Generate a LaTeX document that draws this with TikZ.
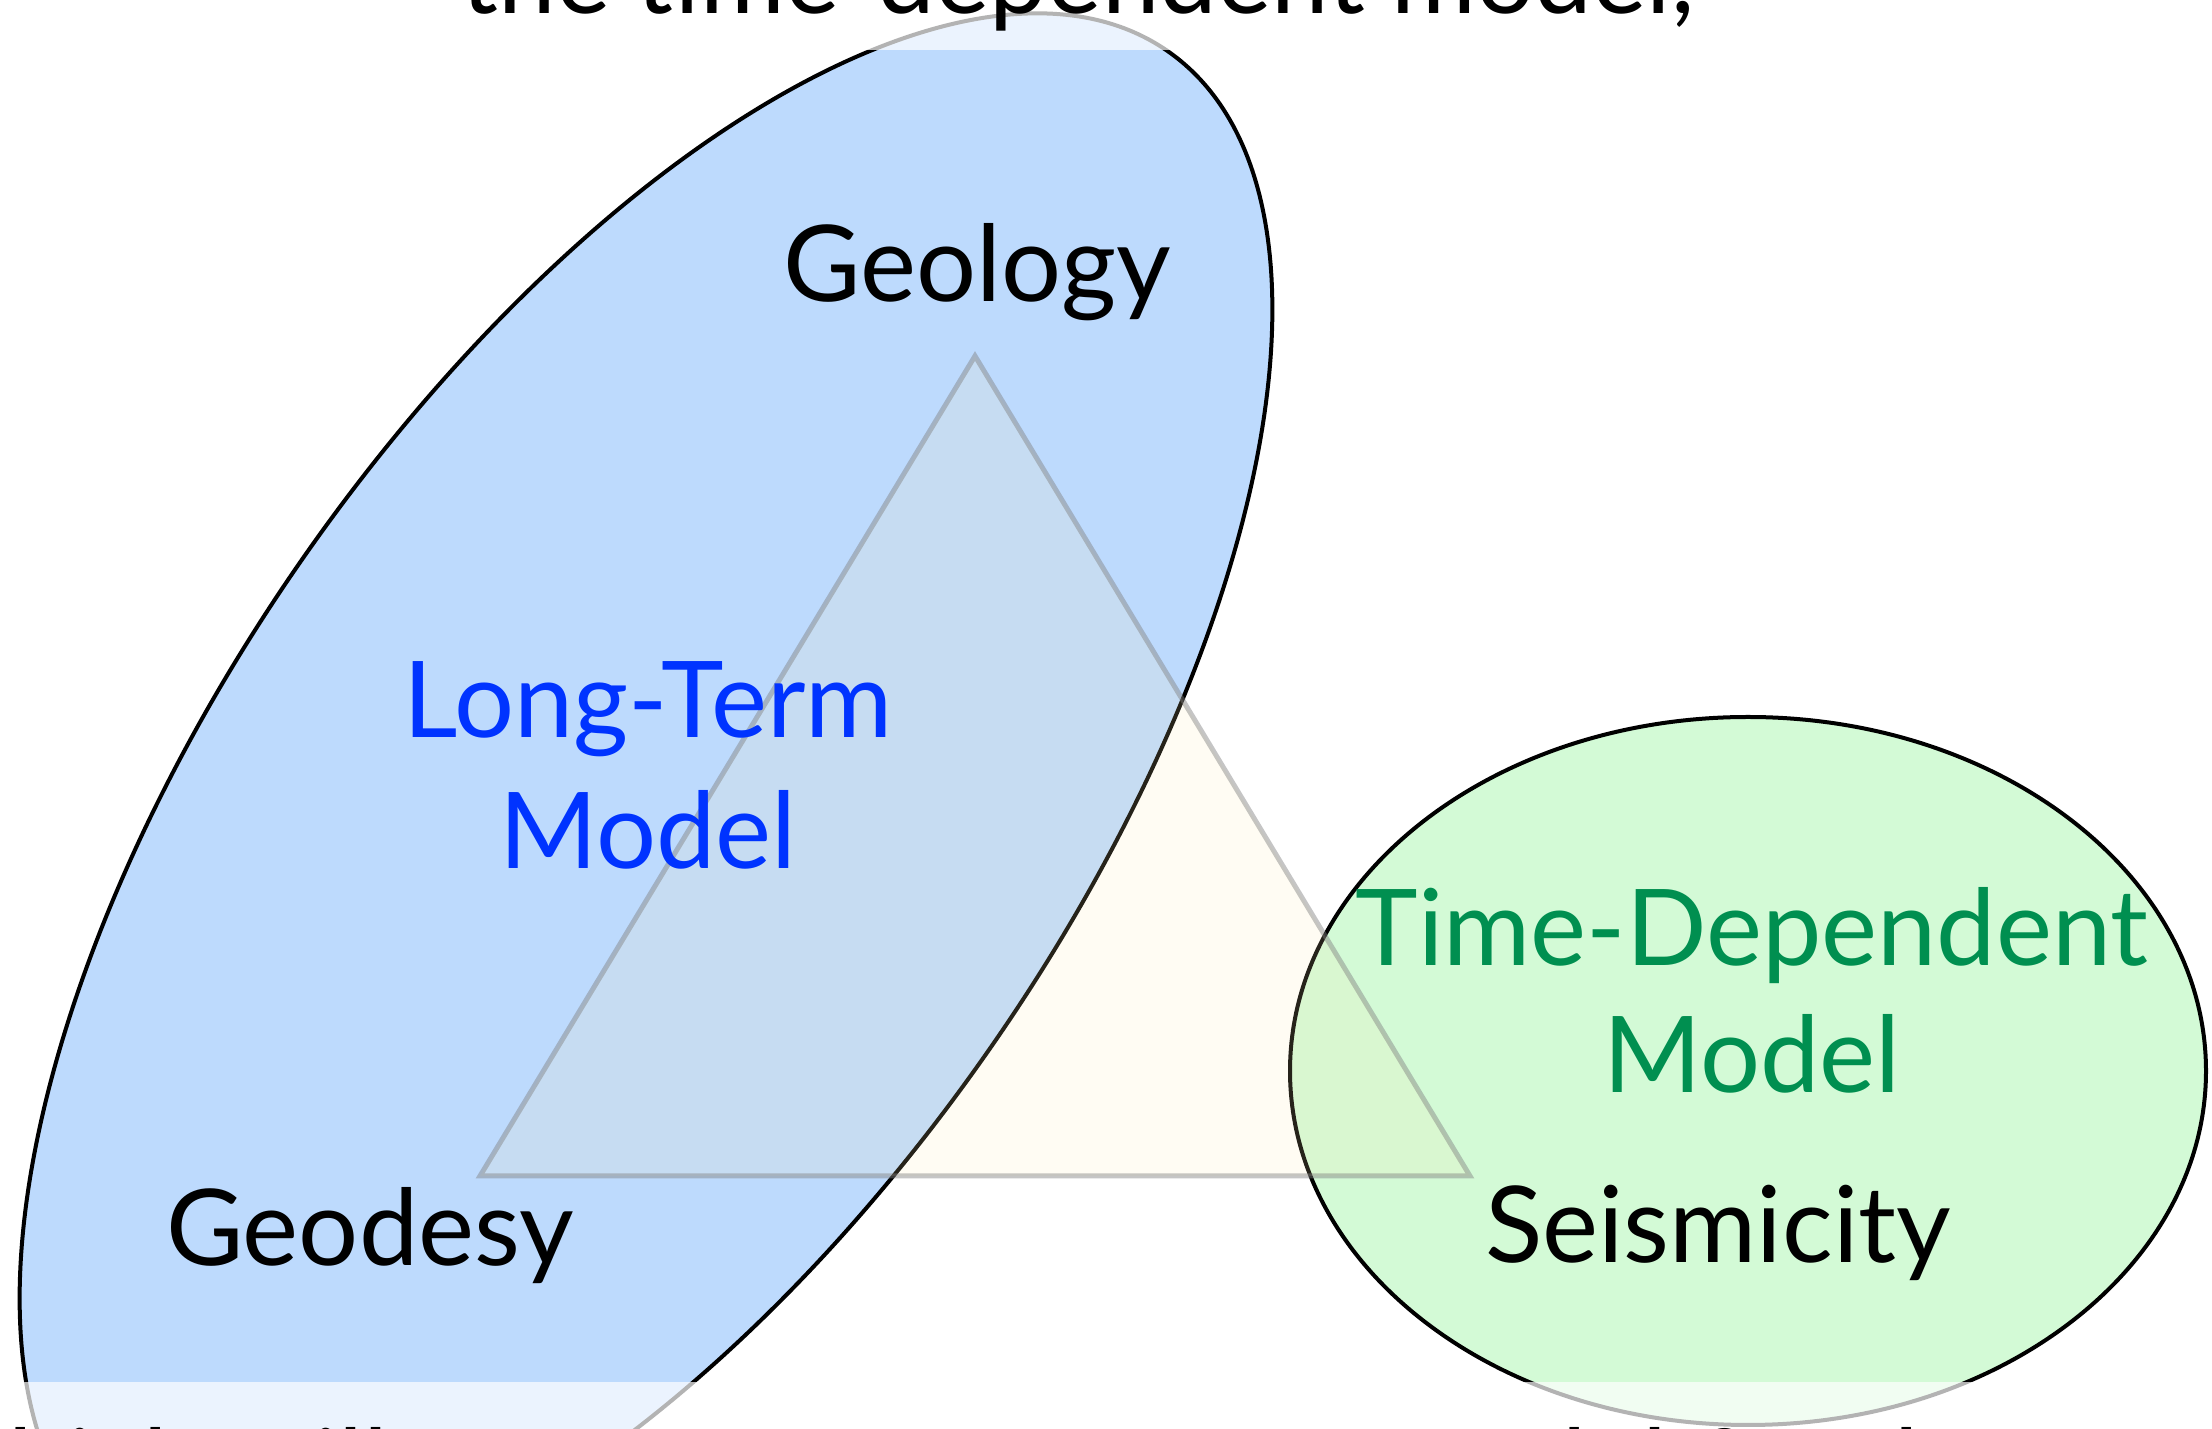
\documentclass[tikz,border=0pt]{standalone}
\usepackage{fontspec}
\setmainfont{Lato}
\begin{document}
\begin{tikzpicture}[x=1pt,y=1pt]
\definecolor{ltblue}{RGB}{189,218,253}
\definecolor{ltgreen}{RGB}{211,250,214}
\definecolor{bluetxt}{RGB}{0,51,255}
\definecolor{greentxt}{RGB}{0,143,80}
\definecolor{trifill}{RGB}{255,235,180}
\tikzset{
  lbl/.style={inner sep=0pt, anchor=base, font=\fontsize{106}{131}\selectfont},
  venn/.style={draw=black, line width=4pt},
  band/.style={fill=white, fill opacity=0.7, draw=none}
}
\useasboundingbox (0,0) rectangle (2212,1429);
\clip (0,0) rectangle (2212,1429);
\fill[white] (0,0) rectangle (2212,1429);
% long-term ellipse
\draw[venn, fill=ltblue, rotate around={55.3:(646,625)}] (646,625) ellipse [x radius=916, y radius=422];
% time-dependent ellipse
\draw[venn, fill=ltgreen] (1748,358) ellipse [x radius=458, y radius=354];
% triangle
\coordinate (apex) at (975,1073);
\coordinate (bl) at (480,253);
\coordinate (br) at (1470,253);
\filldraw[fill=trifill, fill opacity=0.15, draw=black!50, draw opacity=0.45, line width=5pt, line join=miter] (apex) -- (bl) -- (br) -- cycle;
% labels
\node[lbl] (geol) at (977,1127) {Geology};
\node[lbl] (geod) at (370,163) {Geodesy};
\node[lbl] (seis) at (1718,166) {Seismicity};
\node[lbl, text=bluetxt] (lt1) at (648,691) {Long-Term};
\node[lbl, text=bluetxt] (lt2) at (648,560) {Model};
\node[lbl, text=greentxt] (td1) at (1752,463) {Time-Dependent};
\node[lbl, text=greentxt] (td2) at (1752,336) {Model};
% washed bands at top and bottom
\fill[band] (0,1379) rectangle (2212,1429);
\fill[band] (0,0) rectangle (2212,47);
% cut-off sentence lines
\node[lbl, font=\fontsize{103}{131}\selectfont] (topline) at (1078,1415) {the time-dependent model,};
\node[lbl, anchor=base west] (botline) at (-75,-77) {which will serve as an accurate model for the};
\end{tikzpicture}
\end{document}
